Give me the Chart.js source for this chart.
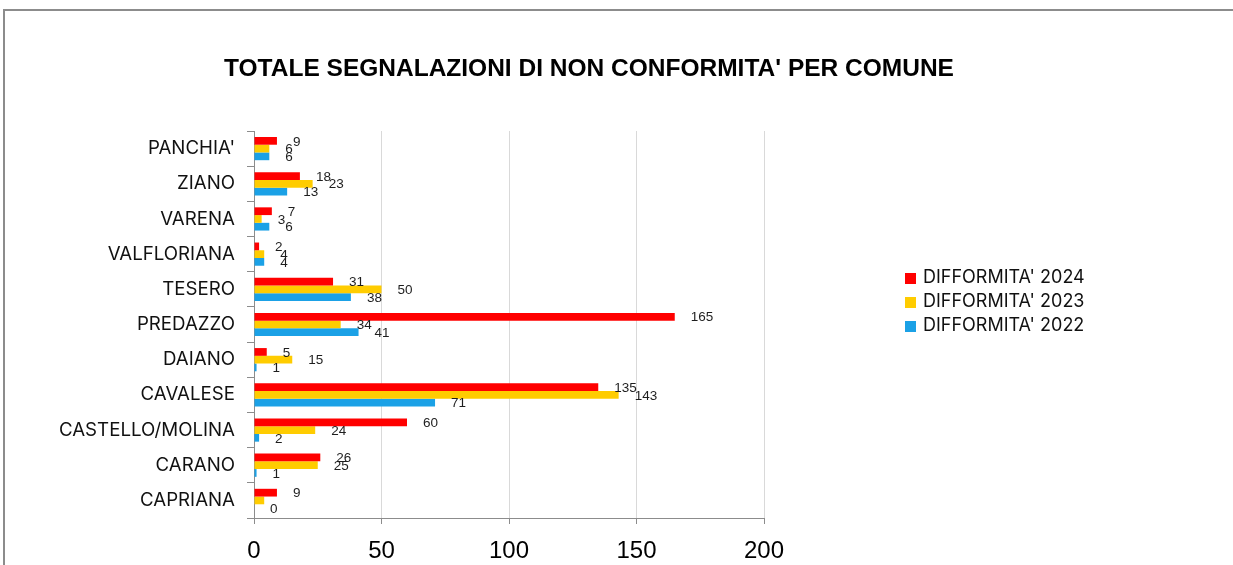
<!DOCTYPE html>
<html>
<head>
<meta charset="utf-8">
<script src="https://cdn.jsdelivr.net/npm/chart.js@4.4.1/dist/chart.umd.min.js"></script>
<style>
    html, body { margin: 0; padding: 0; background: #fff; }
    #wrap { position: relative; width: 1233px; height: 565px; overflow: hidden; }
    #frame { position: absolute; left: 3px; top: 9px; right: -10px; bottom: -10px;
             border-top: 2px solid #8c8c8c; border-left: 2px solid #8c8c8c; }
    #chart { position: absolute; left: 0; top: 0; }
    #title { position: absolute; left: 0; width: 1178px; top: 54px; text-align: center;
             font: bold 24.5px "Liberation Sans", Arial, sans-serif; color: #000; white-space: nowrap; }
    #legend { position: absolute; left: 905px; top: 265px; font: 18px Inter, "Liberation Sans", sans-serif; color: #111; }
    #legend div { height: 24px; line-height: 24px; white-space: nowrap; }
    #legend span { display: inline-block; width: 11px; height: 11px; margin-right: 7px; vertical-align: -1px; }
</style>
</head>
<body>
<div id="wrap">
    <div id="frame"></div>
    <canvas id="chart" width="1233" height="565"></canvas>
    <div id="title">TOTALE SEGNALAZIONI DI NON CONFORMITA' PER COMUNE</div>
    <div id="legend"></div>
</div>
<script>
const comuni = ["PANCHIA'", "ZIANO", "VARENA", "VALFLORIANA", "TESERO", "PREDAZZO",
                "DAIANO", "CAVALESE", "CASTELLO/MOLINA", "CARANO", "CAPRIANA"];
const diff2024 = [9, 18, 7, 2, 31, 165, 5, 135, 60, 26, 9];
const diff2023 = [6, 23, 3, 4, 50, 34, 15, 143, 24, 25, 4];
const diff2022 = [6, 13, 6, 4, 38, 41, 1, 71, 2, 1, 0];
const xTicks = [0, 50, 100, 150, 200];
// the 2023 value label for CAPRIANA is not shown in the original
const hiddenLabels = ["1-10"];

const valueLabels = {
    id: "valueLabels",
    afterDatasetsDraw(chart) {
        const ctx = chart.ctx;
        ctx.save();
        ctx.font = "13.5px 'Liberation Sans', Arial, sans-serif";
        ctx.fillStyle = "#1e1e1e";
        ctx.textBaseline = "middle";
        chart.data.datasets.forEach((ds, i) => {
            chart.getDatasetMeta(i).data.forEach((bar, j) => {
                if (hiddenLabels.includes(i + "-" + j)) return;
                ctx.fillText(ds.data[j], bar.x + 16, bar.y + 1);
            });
        });
        ctx.restore();
    }
};

const chart = new Chart(document.getElementById("chart"), {
    type: "bar",
    data: {
        labels: comuni,
        datasets: [
            { label: "DIFFORMITA' 2024", data: diff2024, backgroundColor: "#ff0000" },
            { label: "DIFFORMITA' 2023", data: diff2023, backgroundColor: "#ffcc00" },
            { label: "DIFFORMITA' 2022", data: diff2022, backgroundColor: "#1ba1e6" }
        ]
    },
    options: {
        indexAxis: "y",
        responsive: false,
        animation: false,
        layout: { padding: { top: 131, bottom: 0, left: 0, right: 469 } },
        datasets: { bar: { barPercentage: 1, categoryPercentage: 0.66 } },
        scales: {
            x: {
                min: 0, max: 200,
                afterBuildTicks: s => { s.ticks = xTicks.map(v => ({ value: v })); },
                afterFit: s => { s.height = 47; },
                grid: { color: "#d9d9d9", tickColor: "#8c8c8c", tickLength: 6 },
                border: { color: "#8c8c8c" },
                ticks: { color: "#000", padding: 12.6, font: { family: "'Liberation Sans', Arial, sans-serif", size: 24 } }
            },
            y: {
                afterFit: s => { s.width = 254; },
                grid: { drawOnChartArea: false, tickColor: "#8c8c8c", tickLength: 7 },
                border: { color: "#8c8c8c" },
                ticks: { color: "#111", padding: 12, autoSkip: false, font: { family: "Inter, 'Liberation Sans', sans-serif", size: 18.7 } }
            }
        },
        plugins: {
            legend: { display: false },
            tooltip: { enabled: false }
        }
    },
    plugins: [valueLabels]
});

// legend built from the chart's datasets
document.getElementById("legend").innerHTML = chart.data.datasets
    .map(ds => `<div><span style="background:${ds.backgroundColor}"></span>${ds.label}</div>`)
    .join("");
</script>
</body>
</html>
